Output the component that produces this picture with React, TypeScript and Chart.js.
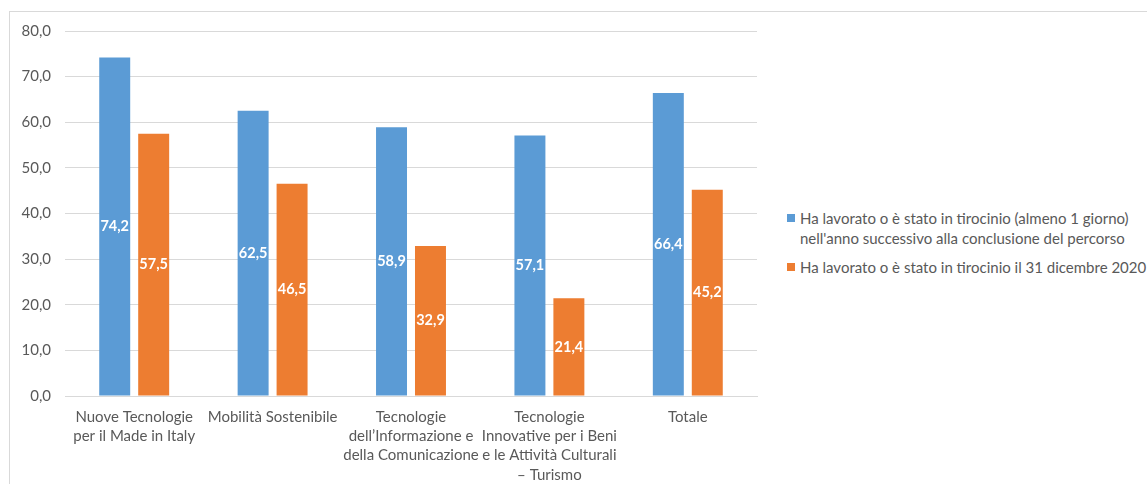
import React, { useEffect, useRef } from "react";
import { Chart, registerables } from "chart.js";

Chart.register(...registerables);

const categories: string[][] = [
  ["Nuove Tecnologie", "per il Made in Italy"],
  ["Mobilità Sostenibile"],
  ["Tecnologie", "dell’Informazione e", "della Comunicazione"],
  ["Tecnologie", "Innovative per i Beni", "e le Attività Culturali", "– Turismo"],
  ["Totale"],
];

const seriesLavorato: number[] = [74.2, 62.5, 58.9, 57.1, 66.4];
const seriesDicembre: number[] = [57.5, 46.5, 32.9, 21.4, 45.2];

const seriesLabels: string[][] = [
  ["Ha lavorato o è stato in tirocinio (almeno 1 giorno)", "nell'anno successivo alla conclusione del percorso"],
  ["Ha lavorato o è stato in tirocinio il 31 dicembre 2020"],
];

const seriesColors: string[] = ["#5B9BD5", "#ED7D31"];

const yMin = 0;
const yMax = 80;
const yStep = 10;

const FONT = "Lato, 'Open Sans', sans-serif";
const TEXT = "#595959";

const fmt = (v: number) => Number(v).toFixed(1).replace(".", ",");

const valueLabels = {
  id: "valueLabels",
  afterDatasetsDraw(chart: any) {
    const ctx = chart.ctx;
    ctx.save();
    ctx.fillStyle = "#ffffff";
    ctx.font = `bold 14.5px ${FONT}`;
    ctx.textAlign = "center";
    ctx.textBaseline = "middle";
    chart.data.datasets.forEach((ds: any, i: number) => {
      const meta = chart.getDatasetMeta(i);
      meta.data.forEach((el: any, j: number) => {
        const p = el.getProps(["x", "y", "base"], true);
        ctx.fillText(fmt(ds.data[j]), p.x, (p.y + p.base) / 2);
      });
    });
    ctx.restore();
  },
};

export default function App() {
  const ref = useRef<HTMLCanvasElement | null>(null);

  useEffect(() => {
    if (!ref.current) return;
    const chart = new Chart(ref.current, {
      type: "bar",
      data: {
        labels: categories,
        datasets: [
          {
            label: seriesLabels[0].join(" "),
            data: seriesLavorato,
            backgroundColor: seriesColors[0],
            categoryPercentage: 0.563,
            barPercentage: 0.795,
          },
          {
            label: seriesLabels[1].join(" "),
            data: seriesDicembre,
            backgroundColor: seriesColors[1],
            categoryPercentage: 0.563,
            barPercentage: 0.795,
          },
        ],
      },
      options: {
        animation: false,
        responsive: false,
        maintainAspectRatio: false,
        layout: { padding: { top: 19, right: 13, left: 0, bottom: 0 } },
        plugins: {
          legend: { display: false },
          tooltip: { enabled: false },
        },
        scales: {
          x: {
            grid: { display: false, drawTicks: false },
            border: { display: true, color: "#d9d9d9", width: 1 },
            ticks: {
              color: TEXT,
              font: { family: FONT, size: 15, lineHeight: 1.27 },
              padding: 12,
              maxRotation: 0,
              autoSkip: false,
            },
            afterFit: (s: any) => {
              s.height = 96;
            },
          },
          y: {
            min: yMin,
            max: yMax,
            grid: { color: "#d9d9d9", drawTicks: false, lineWidth: 1 },
            border: { display: false },
            ticks: {
              stepSize: yStep,
              color: TEXT,
              font: { family: FONT, size: 15 },
              padding: 14,
              callback: (v: any) => fmt(v),
            },
            afterFit: (s: any) => {
              s.width = 55;
              s.paddingTop = 0;
              s.paddingBottom = 0;
            },
          },
        },
      },
      plugins: [valueLabels],
    });
    return () => chart.destroy();
  }, []);

  return (
    <div
      style={{
        position: "fixed",
        left: 9,
        top: 11,
        width: 1200,
        height: 520,
        border: "1px solid #d9d9d9",
        background: "#fff",
        fontFamily: FONT,
      }}
    >
      <canvas ref={ref} width={760} height={480} style={{ position: "absolute", left: 0, top: 0, width: 760, height: 480 }} />
      <div style={{ position: "absolute", left: 777, top: 196, color: TEXT, fontSize: 15, lineHeight: "20px" }}>
        {seriesLabels.map((lines, i) => (
          <div key={i} style={{ position: "relative", paddingLeft: 13, marginBottom: 9, whiteSpace: "nowrap" }}>
            <span
              style={{
                position: "absolute",
                left: 0,
                top: 6,
                width: 8,
                height: 8,
                background: seriesColors[i],
              }}
            />
            {lines.map((l, k) => (
              <div key={k}>{l}</div>
            ))}
          </div>
        ))}
      </div>
    </div>
  );
}
